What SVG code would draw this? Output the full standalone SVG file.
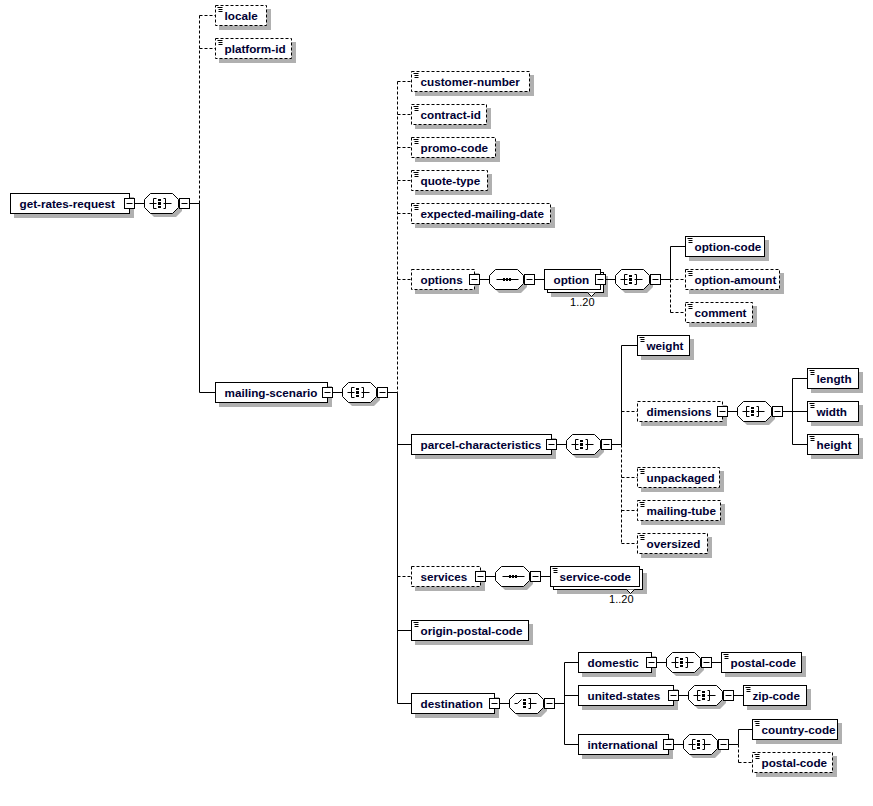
<svg xmlns="http://www.w3.org/2000/svg" xmlns:xlink="http://www.w3.org/1999/xlink" width="873" height="806" viewBox="0 0 873 806">
<style>
.b{fill:#fff;stroke:#000;stroke-width:1}
.d{stroke-dasharray:3,2}
.s{fill:#b0b0b0;stroke:none}
.t{font-family:"Liberation Sans",Arial,sans-serif;font-weight:bold;font-size:11.7px;fill:#000033}
.n{font-family:"Liberation Sans",Arial,sans-serif;font-size:11px;fill:#000}
.ln{fill:none;stroke:#000;stroke-width:1}
.dl{fill:none;stroke:#000;stroke-width:1;stroke-dasharray:3,2}
</style>
<defs>
<polygon id="oct" points="6,0 28,0 34,6 34,14 28,20 6,20 0,14 0,6"/>
<g id="tg"><rect x="0" y="0" width="10" height="10" fill="#fff" stroke="#000"/><path d="M2,5H8" stroke="#000"/></g>
<path id="ico" d="M2,2H7M3,4H7M3,6H7" fill="none" stroke="#000"/>
<g id="i-all"><path d="M5,10H12M9,5V15M9,5H12M9,15H12M19,10H27M21,5V15M19,5H21M19,15H21" fill="none" stroke="#000"/><rect x="13.5" y="5.5" width="3" height="2" fill="#000"/><rect x="13.5" y="8.5" width="3" height="3" fill="#000"/><rect x="13.5" y="12.5" width="3" height="2" fill="#000"/></g>
<g id="i-seq"><path d="M7,10H29" fill="none" stroke="#000"/><rect x="13.5" y="8.5" width="2" height="3" fill="#000"/><rect x="16.5" y="8.5" width="2" height="3" fill="#000"/><rect x="19.5" y="8.5" width="2" height="3" fill="#000"/></g>
<g id="i-cho"><path d="M5,10H8L12,6M21,5V15M19,5H21M19,15H21M19,10H27" fill="none" stroke="#000"/><rect x="13.5" y="5.5" width="3" height="2" fill="#000"/><rect x="13.5" y="8.5" width="3" height="3" fill="#000"/><rect x="13.5" y="12.5" width="3" height="2" fill="#000"/></g>
</defs>
<rect x="0" y="0" width="873" height="806" fill="#fff"/>
<g transform="translate(0.5,0.5)">

<g id="n-get-rates-request"><rect class="s" x="13.5" y="196.5" width="120" height="21"/><rect class="b" x="10" y="193" width="119" height="20"/><text class="t" x="19" y="207">get-rates-request</text><use xlink:href="#tg" x="124" y="198"/></g>
<g id="c-root-all"><use xlink:href="#oct" class="s" x="147.5" y="196.5"/><use xlink:href="#oct" class="b" x="144" y="193"/><use xlink:href="#i-all" x="144" y="193"/><use xlink:href="#tg" x="179" y="198"/></g>
<g id="n-locale"><rect class="s" x="218.5" y="8.5" width="52" height="21"/><rect class="b d" x="215" y="5" width="51" height="20"/><use xlink:href="#ico" x="215" y="5"/><text class="t" x="224" y="19">locale</text></g>
<g id="n-platform-id"><rect class="s" x="218.5" y="41.5" width="77" height="21"/><rect class="b d" x="215" y="38" width="76" height="20"/><use xlink:href="#ico" x="215" y="38"/><text class="t" x="224" y="52">platform-id</text></g>
<g id="n-mailing-scenario"><rect class="s" x="218.5" y="385.5" width="113" height="21"/><rect class="b" x="215" y="382" width="112" height="20"/><text class="t" x="224" y="396">mailing-scenario</text><use xlink:href="#tg" x="322" y="387"/></g>
<g id="c-mailing-all"><use xlink:href="#oct" class="s" x="345.5" y="385.5"/><use xlink:href="#oct" class="b" x="342" y="382"/><use xlink:href="#i-all" x="342" y="382"/><use xlink:href="#tg" x="377" y="387"/></g>

<g id="n-customer-number"><rect class="s" x="414.5" y="74.5" width="119" height="21"/><rect class="b d" x="411" y="71" width="118" height="20"/><use xlink:href="#ico" x="411" y="71"/><text class="t" x="420" y="85">customer-number</text></g>
<g id="n-contract-id"><rect class="s" x="414.5" y="107.5" width="76" height="21"/><rect class="b d" x="411" y="104" width="75" height="20"/><use xlink:href="#ico" x="411" y="104"/><text class="t" x="420" y="118">contract-id</text></g>
<g id="n-promo-code"><rect class="s" x="414.5" y="140.5" width="85" height="21"/><rect class="b d" x="411" y="137" width="84" height="20"/><use xlink:href="#ico" x="411" y="137"/><text class="t" x="420" y="151">promo-code</text></g>
<g id="n-quote-type"><rect class="s" x="414.5" y="173.5" width="77" height="21"/><rect class="b d" x="411" y="170" width="76" height="20"/><use xlink:href="#ico" x="411" y="170"/><text class="t" x="420" y="184">quote-type</text></g>
<g id="n-expected-mailing-date"><rect class="s" x="414.5" y="206.5" width="140" height="21"/><rect class="b d" x="411" y="203" width="139" height="20"/><use xlink:href="#ico" x="411" y="203"/><text class="t" x="420" y="217">expected-mailing-date</text></g>

<g id="n-options"><rect class="s" x="414.5" y="272.5" width="64" height="21"/><rect class="b d" x="411" y="269" width="63" height="20"/><text class="t" x="420" y="283">options</text><use xlink:href="#tg" x="469" y="274"/></g>
<g id="c-options-seq"><use xlink:href="#oct" class="s" x="492.5" y="272.5"/><use xlink:href="#oct" class="b" x="489" y="269"/><use xlink:href="#i-seq" x="489" y="269"/><use xlink:href="#tg" x="524" y="274"/></g>
<g id="n-option"><rect class="s" x="550.5" y="275.5" width="57" height="21"/><rect class="b" x="547" y="272" width="56" height="20"/><polyline class="b" points="587,292 591,296 595,292"/><rect class="b" x="544" y="269" width="56" height="20"/><text class="t" x="553" y="283">option</text><use xlink:href="#tg" x="595" y="274"/><text class="n" x="594" y="305" text-anchor="end">1..20</text></g>
<g id="c-option-all"><use xlink:href="#oct" class="s" x="618.5" y="272.5"/><use xlink:href="#oct" class="b" x="615" y="269"/><use xlink:href="#i-all" x="615" y="269"/><use xlink:href="#tg" x="650" y="274"/></g>
<g id="n-option-code"><rect class="s" x="688.5" y="239.5" width="80" height="21"/><rect class="b" x="685" y="236" width="79" height="20"/><use xlink:href="#ico" x="685" y="236"/><text class="t" x="694" y="250">option-code</text></g>
<g id="n-option-amount"><rect class="s" x="688.5" y="272.5" width="95" height="21"/><rect class="b d" x="685" y="269" width="94" height="20"/><use xlink:href="#ico" x="685" y="269"/><text class="t" x="694" y="283">option-amount</text></g>
<g id="n-comment"><rect class="s" x="688.5" y="305.5" width="68" height="21"/><rect class="b d" x="685" y="302" width="67" height="20"/><use xlink:href="#ico" x="685" y="302"/><text class="t" x="694" y="316">comment</text></g>

<g id="n-parcel-characteristics"><rect class="s" x="414.5" y="437.5" width="141" height="21"/><rect class="b" x="411" y="434" width="140" height="20"/><text class="t" x="420" y="448">parcel-characteristics</text><use xlink:href="#tg" x="546" y="439"/></g>
<g id="c-parcel-all"><use xlink:href="#oct" class="s" x="569.5" y="437.5"/><use xlink:href="#oct" class="b" x="566" y="434"/><use xlink:href="#i-all" x="566" y="434"/><use xlink:href="#tg" x="601" y="439"/></g>
<g id="n-weight"><rect class="s" x="640.5" y="338.5" width="53" height="21"/><rect class="b" x="637" y="335" width="52" height="20"/><use xlink:href="#ico" x="637" y="335"/><text class="t" x="646" y="349">weight</text></g>
<g id="n-dimensions"><rect class="s" x="640.5" y="404.5" width="86" height="21"/><rect class="b d" x="637" y="401" width="85" height="20"/><text class="t" x="646" y="415">dimensions</text><use xlink:href="#tg" x="717" y="406"/></g>
<g id="c-dimensions-all"><use xlink:href="#oct" class="s" x="740.5" y="404.5"/><use xlink:href="#oct" class="b" x="737" y="401"/><use xlink:href="#i-all" x="737" y="401"/><use xlink:href="#tg" x="772" y="406"/></g>
<g id="n-length"><rect class="s" x="810.5" y="371.5" width="52" height="21"/><rect class="b" x="807" y="368" width="51" height="20"/><use xlink:href="#ico" x="807" y="368"/><text class="t" x="816" y="382">length</text></g>
<g id="n-width"><rect class="s" x="810.5" y="404.5" width="52" height="21"/><rect class="b" x="807" y="401" width="51" height="20"/><use xlink:href="#ico" x="807" y="401"/><text class="t" x="816" y="415">width</text></g>
<g id="n-height"><rect class="s" x="810.5" y="437.5" width="52" height="21"/><rect class="b" x="807" y="434" width="51" height="20"/><use xlink:href="#ico" x="807" y="434"/><text class="t" x="816" y="448">height</text></g>
<g id="n-unpackaged"><rect class="s" x="640.5" y="470.5" width="83" height="21"/><rect class="b d" x="637" y="467" width="82" height="20"/><use xlink:href="#ico" x="637" y="467"/><text class="t" x="646" y="481">unpackaged</text></g>
<g id="n-mailing-tube"><rect class="s" x="640.5" y="503.5" width="84" height="21"/><rect class="b d" x="637" y="500" width="83" height="20"/><use xlink:href="#ico" x="637" y="500"/><text class="t" x="646" y="514">mailing-tube</text></g>
<g id="n-oversized"><rect class="s" x="640.5" y="536.5" width="71" height="21"/><rect class="b d" x="637" y="533" width="70" height="20"/><use xlink:href="#ico" x="637" y="533"/><text class="t" x="646" y="547">oversized</text></g>

<g id="n-services"><rect class="s" x="414.5" y="569.5" width="70" height="21"/><rect class="b d" x="411" y="566" width="69" height="20"/><text class="t" x="420" y="580">services</text><use xlink:href="#tg" x="475" y="571"/></g>
<g id="c-services-seq"><use xlink:href="#oct" class="s" x="498.5" y="569.5"/><use xlink:href="#oct" class="b" x="495" y="566"/><use xlink:href="#i-seq" x="495" y="566"/><use xlink:href="#tg" x="530" y="571"/></g>
<g id="n-service-code"><rect class="s" x="556.5" y="572.5" width="90" height="21"/><rect class="b" x="553" y="569" width="89" height="20"/><polyline class="b" points="626,589 630,593 634,589"/><rect class="b" x="550" y="566" width="89" height="20"/><use xlink:href="#ico" x="550" y="566"/><text class="t" x="559" y="580">service-code</text><text class="n" x="633" y="602" text-anchor="end">1..20</text></g>
<g id="n-origin-postal-code"><rect class="s" x="414.5" y="623.5" width="118" height="21"/><rect class="b" x="411" y="620" width="117" height="20"/><use xlink:href="#ico" x="411" y="620"/><text class="t" x="420" y="634">origin-postal-code</text></g>

<g id="n-destination"><rect class="s" x="414.5" y="696.5" width="84" height="21"/><rect class="b" x="411" y="693" width="83" height="20"/><text class="t" x="420" y="707">destination</text><use xlink:href="#tg" x="489" y="698"/></g>
<g id="c-destination-choice"><use xlink:href="#oct" class="s" x="512.5" y="696.5"/><use xlink:href="#oct" class="b" x="509" y="693"/><use xlink:href="#i-cho" x="509" y="693"/><use xlink:href="#tg" x="544" y="698"/></g>
<g id="n-domestic"><rect class="s" x="581.5" y="655.5" width="74" height="21"/><rect class="b" x="578" y="652" width="73" height="20"/><text class="t" x="587" y="666">domestic</text><use xlink:href="#tg" x="646" y="657"/></g>
<g id="c-domestic-all"><use xlink:href="#oct" class="s" x="669.5" y="655.5"/><use xlink:href="#oct" class="b" x="666" y="652"/><use xlink:href="#i-all" x="666" y="652"/><use xlink:href="#tg" x="701" y="657"/></g>
<g id="n-postal-code-domestic"><rect class="s" x="724.5" y="655.5" width="81" height="21"/><rect class="b" x="721" y="652" width="80" height="20"/><use xlink:href="#ico" x="721" y="652"/><text class="t" x="730" y="666">postal-code</text></g>
<g id="n-united-states"><rect class="s" x="581.5" y="688.5" width="96" height="21"/><rect class="b" x="578" y="685" width="95" height="20"/><text class="t" x="587" y="699">united-states</text><use xlink:href="#tg" x="668" y="690"/></g>
<g id="c-united-states-all"><use xlink:href="#oct" class="s" x="691.5" y="688.5"/><use xlink:href="#oct" class="b" x="688" y="685"/><use xlink:href="#i-all" x="688" y="685"/><use xlink:href="#tg" x="723" y="690"/></g>
<g id="n-zip-code"><rect class="s" x="746.5" y="688.5" width="64" height="21"/><rect class="b" x="743" y="685" width="63" height="20"/><use xlink:href="#ico" x="743" y="685"/><text class="t" x="752" y="699">zip-code</text></g>
<g id="n-international"><rect class="s" x="581.5" y="737.5" width="91" height="21"/><rect class="b" x="578" y="734" width="90" height="20"/><text class="t" x="587" y="748">international</text><use xlink:href="#tg" x="663" y="739"/></g>
<g id="c-international-all"><use xlink:href="#oct" class="s" x="686.5" y="737.5"/><use xlink:href="#oct" class="b" x="683" y="734"/><use xlink:href="#i-all" x="683" y="734"/><use xlink:href="#tg" x="718" y="739"/></g>
<g id="n-country-code"><rect class="s" x="755.5" y="722.5" width="86" height="21"/><rect class="b" x="752" y="719" width="85" height="20"/><use xlink:href="#ico" x="752" y="719"/><text class="t" x="761" y="733">country-code</text></g>
<g id="n-postal-code-international"><rect class="s" x="755.5" y="755.5" width="81" height="21"/><rect class="b d" x="752" y="752" width="80" height="20"/><use xlink:href="#ico" x="752" y="752"/><text class="t" x="761" y="766">postal-code</text></g>

<g id="connectors">
<path class="ln" d="M134,203H144M189,203H199M199,203V392M199,392H215"/>
<path class="dl" d="M199,15V203M199,15H215M199,48H215"/>
<path class="ln" d="M332,392H342M387,392H397M397,392V703M397,444H411M397,630H411M397,703H411"/>
<path class="dl" d="M397,81V392M397,81H411M397,114H411M397,147H411M397,180H411M397,213H411M397,279H411M397,576H411"/>
<path class="ln" d="M479,279H489M534,279H544M605,279H615M660,279H670M670,246V279M670,246H685"/>
<path class="dl" d="M670,279V312M670,279H685M670,312H685"/>
<path class="ln" d="M556,444H566M611,444H621M621,345V444M621,345H637"/>
<path class="dl" d="M621,444V543M621,411H637M621,477H637M621,510H637M621,543H637"/>
<path class="ln" d="M727,411H737M782,411H792M792,378V444M792,378H807M792,411H807M792,444H807"/>
<path class="ln" d="M485,576H495M540,576H550"/>
<path class="ln" d="M499,703H509M554,703H564M564,662V744M564,662H578M564,695H578M564,744H578"/>
<path class="ln" d="M656,662H666M711,662H721M678,695H688M733,695H743M673,744H683M728,744H738M738,729V744M738,729H752"/>
<path class="dl" d="M738,744V762M738,762H752"/>
</g>
</g>
</svg>
